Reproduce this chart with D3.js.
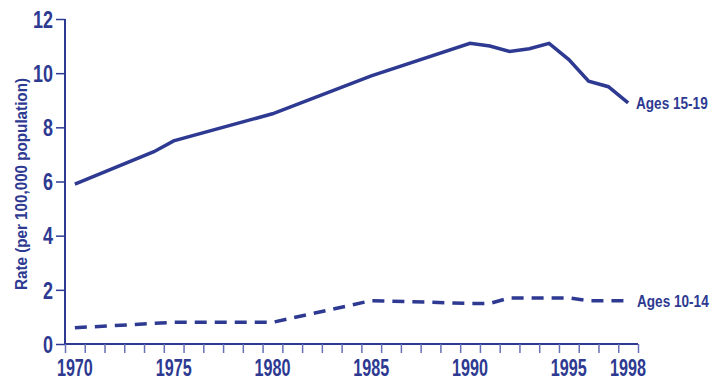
<!DOCTYPE html>
<html>
<head>
<meta charset="utf-8">
<script src="https://cdn.jsdelivr.net/npm/d3@7"></script>
<style>
  body { margin: 0; background: #fff; }
  text { font-family: "Liberation Sans", Arial, sans-serif; font-weight: bold; fill: #2e3a92; }
</style>
</head>
<body>
<svg width="715" height="388"></svg>
<script>
// years and rates
var years1519 = [1970, 1974, 1975, 1980, 1985, 1990, 1991, 1992, 1993, 1994, 1995, 1996, 1997, 1998];
var rates1519 = [5.9, 7.1, 7.5, 8.5, 9.9, 11.1, 11.0, 10.8, 10.9, 11.1, 10.5, 9.7, 9.5, 8.9];

var years1014 = [1970, 1975, 1980, 1985, 1990, 1991, 1992, 1993, 1994, 1995, 1996, 1997, 1998];
var rates1014 = [0.6, 0.8, 0.8, 1.6, 1.5, 1.5, 1.7, 1.7, 1.7, 1.7, 1.6, 1.6, 1.6];

var xLabels = [1970, 1975, 1980, 1985, 1990, 1995, 1998];
var yTicks = [0, 2, 4, 6, 8, 10, 12];

var blue = "#2e3a92";

var svg = d3.select("svg");

// ticks sit on the year boundaries, labels on the year itself
var x = d3.scaleLinear().domain([1969.5, 1998.5]).range([65, 638]);
var y = d3.scaleLinear().domain([0, 12]).range([344, 19]);

// no narrow font installed, so squeeze the text to mimic a condensed face
function condense(sel, perChar) {
  sel.attr("textLength", function() { return this.textContent.length * perChar; })
     .attr("lengthAdjust", "spacingAndGlyphs");
}

// y axis
var yAxis = svg.append("g").attr("transform", "translate(65,0)")
    .call(d3.axisLeft(y).tickValues(yTicks).tickSize(9).tickPadding(3));
yAxis.select(".domain").attr("stroke", blue).attr("stroke-width", 2).attr("d", "M0,19V344");
yAxis.selectAll(".tick line").attr("stroke", blue).attr("stroke-width", 1.5);
yAxis.selectAll(".tick text").style("font-size", "23px").attr("dy", "0.36em").call(condense, 10);

// x axis: plain tick marks on year boundaries
var boundaries = d3.range(1969.5, 1999, 1);
var xAxis = svg.append("g").attr("transform", "translate(0,344)")
    .call(d3.axisBottom(x).tickValues(boundaries).tickSize(9).tickFormat(""));
xAxis.select(".domain").attr("stroke", blue).attr("stroke-width", 2).attr("d", "M65,0H638");
xAxis.selectAll(".tick line").attr("stroke", "#6670b4").attr("stroke-width", 1.5);

svg.append("g").selectAll("text")
    .data(xLabels)
    .enter().append("text")
      .attr("x", d => x(d))
      .attr("y", 376)
      .attr("text-anchor", "middle")
      .style("font-size", "23px")
      .text(d => d)
      .call(condense, 9);

// y title
svg.append("text")
    .attr("transform", "translate(27,184) rotate(-90)")
    .attr("text-anchor", "middle")
    .style("font-size", "17px")
    .text("Rate (per 100,000 population)")
    .attr("textLength", 212)
    .attr("lengthAdjust", "spacingAndGlyphs");

var line = d3.line()
    .x(d => x(d[0]))
    .y(d => y(d[1]));

svg.append("path")
    .datum(d3.zip(years1519, rates1519))
    .attr("fill", "none")
    .attr("stroke", blue)
    .attr("stroke-width", 3.5)
    .attr("d", line);

svg.append("path")
    .datum(d3.zip(years1014, rates1014))
    .attr("fill", "none")
    .attr("stroke", blue)
    .attr("stroke-width", 3.5)
    .attr("stroke-dasharray", "12,8")
    .attr("d", line);

// series labels at the line ends (scaled horizontally instead of textLength)
svg.append("text")
    .attr("transform", "translate(636," + (y(rates1519[rates1519.length - 1]) + 6) + ") scale(0.8,1)")
    .style("font-size", "17px")
    .text("Ages 15-19");

svg.append("text")
    .attr("transform", "translate(637," + (y(rates1014[rates1014.length - 1]) + 6) + ") scale(0.8,1)")
    .style("font-size", "17px")
    .text("Ages 10-14");
</script>
</body>
</html>
